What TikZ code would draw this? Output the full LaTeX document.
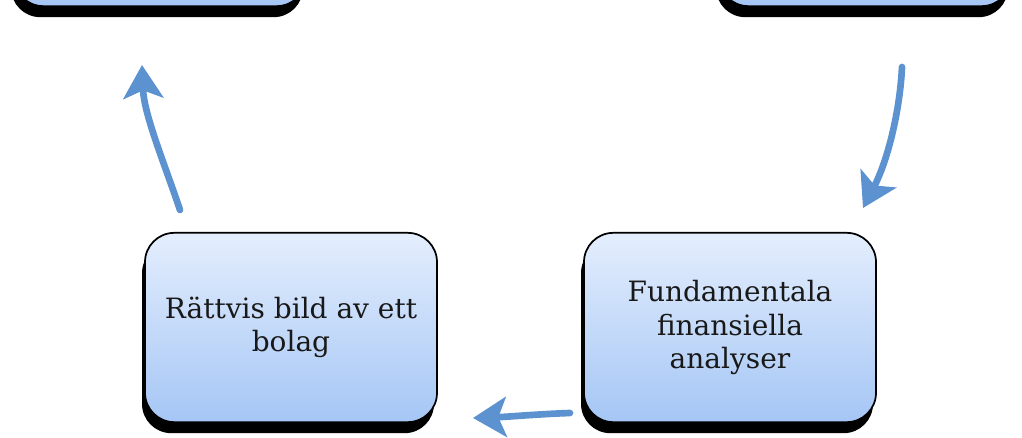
\documentclass[tikz,border=0pt]{standalone}
\usepackage{fontspec}
\setmainfont{DejaVu Serif}
\usetikzlibrary{arrows.meta,shadows}
\definecolor{arrowblue}{RGB}{91,146,207}
\definecolor{boxtop}{RGB}{228,238,253}
\definecolor{boxbot}{RGB}{165,198,245}
\definecolor{textdark}{RGB}{25,25,25}
\tikzset{
  stagebox/.style={rectangle, rounded corners=22pt, minimum width=219pt, minimum height=142pt,
    draw=black, line width=1.3pt, top color=boxtop, bottom color=boxbot,
    general shadow={fill=black, shadow xshift=-2.25pt, shadow yshift=-8.25pt},
    align=center, text=textdark, font=\fontsize{21}{25}\selectfont, inner sep=0pt},
  flowarrow/.style={draw=arrowblue, line width=5pt, line cap=round,
    -{Stealth[length=25pt,width=30pt,inset=6pt]}}
}
\begin{document}
\begin{tikzpicture}[x=0.75pt,y=-0.75pt]
  \useasboundingbox (0,0) rectangle (1022,438);
  \clip (0,0) rectangle (1022,438);
  \fill[white] (0,0) rectangle (1022,438);
  % boxes
  \node[stagebox] (tl) at (160,-88.5) {};
  \node[stagebox] (tr) at (865,-88.5) {};
  \node[stagebox] (bl) at (291,327.5) {Rättvis bild av ett\\bolag};
  \node[stagebox] (br) at (730,327.5) {Fundamentala\\finansiella\\analyser};
  % arrow end points
  \coordinate (a1s) at (180,210);
  \coordinate (a1e) at (142,65);
  \coordinate (a2s) at (902,67);
  \coordinate (a2e) at (863,208);
  \coordinate (a3s) at (570,413);
  \coordinate (a3e) at (473,418);
  \draw[flowarrow] (a1s) .. controls (165,165) and (144,115) .. (a1e);
  \draw[flowarrow] (a2s) .. controls (900,110) and (888,160) .. (a2e);
  \draw[flowarrow] (a3s) .. controls (540,414) and (505,417) .. (a3e);
\end{tikzpicture}
\end{document}
